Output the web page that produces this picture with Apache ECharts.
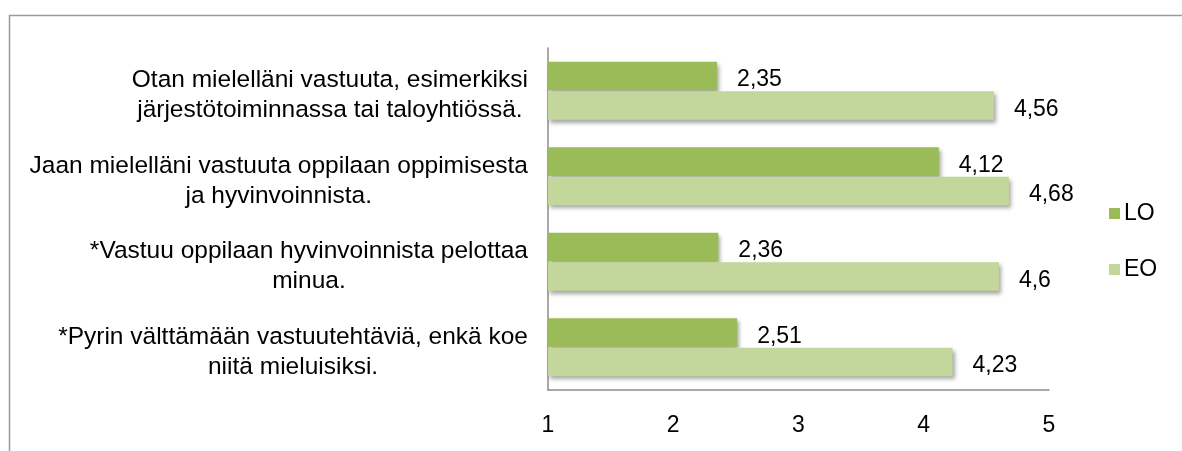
<!DOCTYPE html>
<html>
<head>
<meta charset="utf-8">
<script src="https://cdn.jsdelivr.net/npm/echarts@6/dist/echarts.min.js"></script>
<style>
  html, body { margin: 0; padding: 0; background: #fff; }
</style>
</head>
<body>
<div id="main" style="width: 1182px; height: 451px"></div>
<script>
// kysymykset (rivinvaihdot kuten kuvassa)
var categories = [
  "Otan mielelläni vastuuta, esimerkiksi\njärjestötoiminnassa tai taloyhtiössä.",
  "Jaan mielelläni vastuuta oppilaan oppimisesta\nja hyvinvoinnista.",
  "*Vastuu oppilaan hyvinvoinnista pelottaa\nminua.",
  "*Pyrin välttämään vastuutehtäviä, enkä koe\nniitä mieluisiksi."
];
var seriesNames = ["LO", "EO"];
var loValues = [2.35, 4.12, 2.36, 2.51];
var eoValues = [4.56, 4.68, 4.6, 4.23];
var tickLabels = ["1", "2", "3", "4", "5"];

var fontFamily = "'Liberation Sans', Arial, sans-serif";

// pilkku desimaalierottimena
function fi(v) {
  return String(v).replace(".", ",");
}

var barShadow = {
  shadowBlur: 4,
  shadowOffsetX: 2,
  shadowOffsetY: 3,
  shadowColor: "rgba(0,0,0,0.35)"
};

var myChart = echarts.init(document.getElementById("main"));
var option = {
  backgroundColor: "#fff",
  textStyle: { fontFamily: fontFamily },
  graphic: [
    {
      type: "rect",
      shape: { x: 9.5, y: 15.5, width: 1300, height: 600 },
      style: { fill: "none", stroke: "#9a9a9a", lineWidth: 1.5 },
      silent: true
    }
  ],
  grid: { left: 548, right: 133, top: 48, bottom: 61, containLabel: false },
  legend: {
    data: seriesNames,
    orient: "vertical",
    left: 1104,
    top: 197,
    itemWidth: 11,
    itemHeight: 11,
    itemGap: 33,
    icon: "rect",
    textStyle: { fontSize: 23, color: "#000", fontFamily: fontFamily, padding: [0, 0, 0, -1] }
  },
  xAxis: {
    type: "value",
    min: 1,
    max: 5,
    interval: 1,
    axisLine: { show: true, lineStyle: { color: "#8c8c8c", width: 1.5 } },
    axisTick: { show: false },
    splitLine: { show: false },
    axisLabel: {
      color: "#000",
      fontSize: 23,
      margin: 24,
      fontFamily: fontFamily,
      formatter: function (v) { return tickLabels[v - 1]; }
    }
  },
  yAxis: {
    type: "category",
    data: categories,
    inverse: true,
    axisLine: { show: true, lineStyle: { color: "#8c8c8c", width: 1.5 } },
    axisTick: { show: false },
    axisLabel: {
      margin: 20,
      align: "right",
      lineHeight: 30,
      padding: [9, 0, 0, 0],
      formatter: function (v) {
        return v.split("\n").map(function (s) { return "{c|" + s + "}"; }).join("\n");
      },
      rich: {
        c: { align: "center", fontSize: 24.5, lineHeight: 30, color: "#000", fontFamily: fontFamily }
      }
    }
  },
  series: [
    {
      name: seriesNames[0],
      type: "bar",
      data: loValues,
      barGap: "4%",
      barCategoryGap: "32%",
      itemStyle: Object.assign({ color: "#9bbb59" }, barShadow),
      label: {
        show: true,
        position: "right",
        distance: 20,
        offset: [0, 4],
        color: "#000",
        fontSize: 23,
        fontFamily: fontFamily,
        formatter: function (p) { return fi(p.value); }
      }
    },
    {
      name: seriesNames[1],
      type: "bar",
      data: eoValues,
      barGap: "4%",
      barCategoryGap: "32%",
      itemStyle: Object.assign({ color: "#c3d69b" }, barShadow),
      label: {
        show: true,
        position: "right",
        distance: 20,
        offset: [0, 4],
        color: "#000",
        fontSize: 23,
        fontFamily: fontFamily,
        formatter: function (p) { return fi(p.value); }
      }
    }
  ]
};
myChart.setOption(option);
</script>
</body>
</html>
